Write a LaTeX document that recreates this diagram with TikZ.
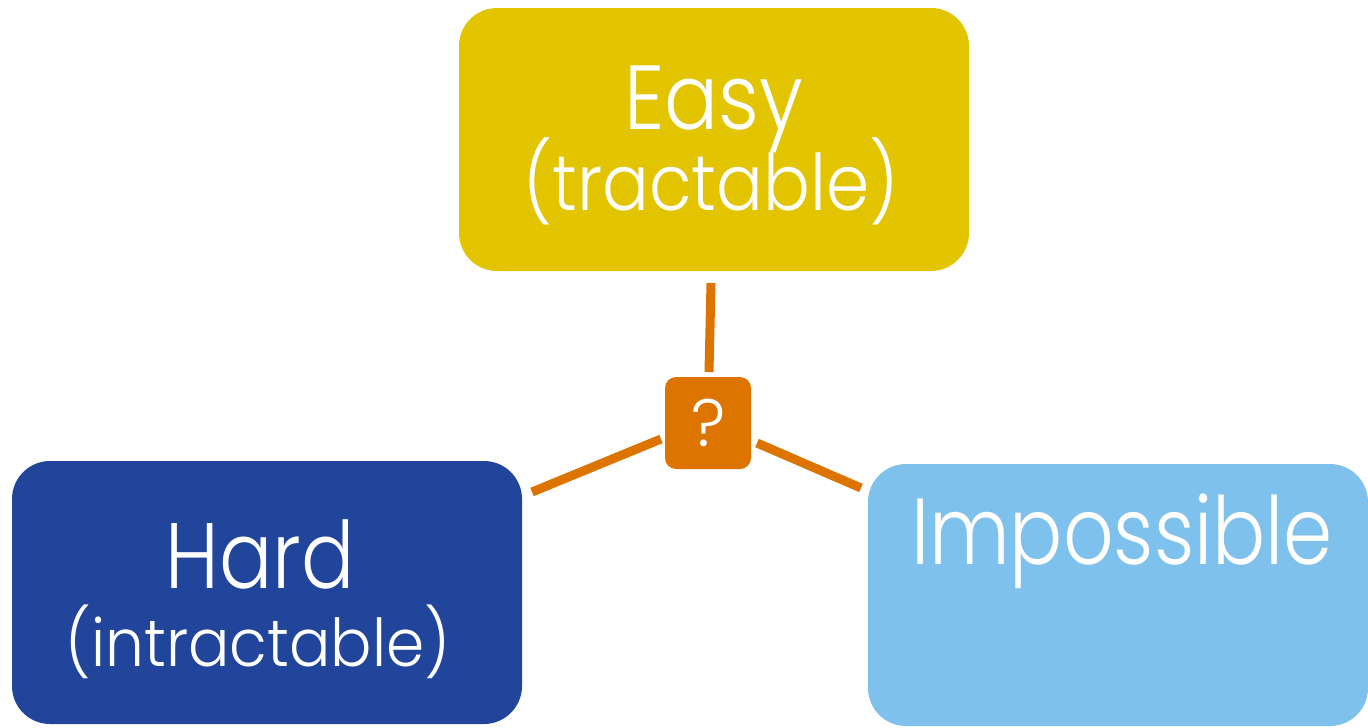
\documentclass[tikz,border=0pt]{standalone}
\usepackage{fontspec}
\setmainfont{Poppins}[UprightFont=* Light]
\definecolor{easyc}{HTML}{E2C500}
\definecolor{hardc}{HTML}{21459A}
\definecolor{impc}{HTML}{7FC1ED}
\definecolor{linkc}{HTML}{DE7400}
\tikzset{
  card/.style={rounded corners=38pt, inner sep=0pt, outer sep=0pt},
  qbox/.style={fill=linkc, rounded corners=11pt, inner sep=0pt, outer sep=0pt,
    minimum width=86pt, minimum height=92pt},
  lbl/.style={text=white, inner sep=0pt, anchor=base},
  link/.style={draw=linkc, line width=9pt},
}
\newcommand{\fsz}[1]{\fontsize{#1}{#1}\selectfont}
\newcommand{\narrow}[2]{\scalebox{#1}[1]{#2}}
\begin{document}
\begin{tikzpicture}[x=1pt,y=-1pt]
\useasboundingbox (0,0) rectangle (1368,728);
% rounded cards
\node[card, fill=easyc, minimum width=510pt, minimum height=263pt] (easy) at (714,139.5) {};
\node[card, fill=hardc, minimum width=510pt, minimum height=263pt] (hard) at (267,592.5) {};
\node[card, fill=impc, minimum width=500pt, minimum height=262pt] (imp) at (1118,595) {};
\node[qbox] (q) at (708,423) {};
% card labels
\node[lbl, font=\fsz{91}] (easyt) at (714,129) {\narrow{0.88}{Easy}};
\node[lbl, font=\fsz{78}] (easys) at (711,210) {\narrow{0.89}{(tractable)}};
\node[lbl, font=\fsz{93}] (hardt) at (260,588) {\narrow{0.85}{Hard}};
\node[lbl, font=\fsz{66}] (hards) at (258,666) {\narrow{0.93}{(intractable)}};
\node[lbl, font=\fsz{94}] (impt) at (1122,564) {\narrow{0.84}{Impossible}};
\node[lbl, font=\fsz{67}] (qt) at (709,446) {?};
% connector end points
\coordinate (e1) at (711,283);
\coordinate (e2) at (709,372);
\coordinate (h1) at (532,492);
\coordinate (h2) at (661,439);
\coordinate (i1) at (757,443);
\coordinate (i2) at (861,488);
\draw[link] (e1) -- (e2);
\draw[link] (h1) -- (h2);
\draw[link] (i1) -- (i2);
\end{tikzpicture}
\end{document}
